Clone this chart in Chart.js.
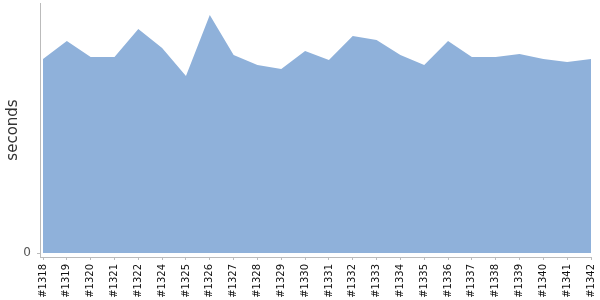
<!DOCTYPE html>
<html>
<head>
<meta charset="utf-8">
<script src="https://cdn.jsdelivr.net/npm/chart.js@4"></script>
<style>
  html, body { margin: 0; padding: 0; background: #fff; }
  #wrap { width: 600px; height: 300px; }
</style>
</head>
<body>
<div id="wrap"><canvas id="chart"></canvas></div>
<script>
// build numbers along the x axis
const builds = [
  '#1318', '#1319', '#1320', '#1321', '#1322', '#1324', '#1325', '#1326',
  '#1327', '#1328', '#1329', '#1330', '#1331', '#1332', '#1333', '#1334',
  '#1335', '#1336', '#1337', '#1338', '#1339', '#1340', '#1341', '#1342'
];

// duration per build, seconds
const durations = [
  194, 212, 196, 196, 224, 205, 177, 238,
  198, 188, 184, 202, 193, 217, 213, 198,
  188, 212, 196, 196, 199, 194, 191, 194
];

const yTicks = [ 0 ];

const fillColor = '#8fb1da';
const axisColor = '#bbbbbb';

const points = durations.map( ( v, i ) => ( { x: i, y: v } ) );

// keep the chart area where the original puts it
const noPadding = ( scale ) => {
  scale.paddingTop = 0;
  scale.paddingBottom = 0;
  scale.paddingLeft = 0;
  scale.paddingRight = 0;
};

new Chart( document.getElementById( 'chart' ), {
  type: 'line',
  data: {
    datasets: [ {
      label: 'seconds',
      data: points,
      borderWidth: 0,
      borderColor: fillColor,
      backgroundColor: fillColor,
      pointRadius: 0,
      fill: 'origin',
      tension: 0,
    } ],
  },
  options: {
    responsive: true,
    maintainAspectRatio: false,
    animation: false,
    layout: { padding: { top: 3, right: 9, left: 0, bottom: 0 } },
    plugins: {
      legend: { display: false },
      tooltip: { enabled: false },
    },
    scales: {
      x: {
        type: 'linear',
        min: -0.126,
        max: builds.length - 1,
        afterBuildTicks: ( scale ) => {
          scale.ticks = builds.map( ( _, i ) => ( { value: i } ) );
        },
        afterFit: ( scale ) => {
          scale.height = 43;
          noPadding( scale );
        },
        grid: { drawOnChartArea: false, tickLength: 3, color: axisColor },
        border: { color: axisColor },
        ticks: {
          autoSkip: false,
          minRotation: 90,
          maxRotation: 90,
          padding: 4,
          color: '#111',
          font: { family: 'DejaVu Sans', size: 10 },
          callback: ( value ) => builds[ value ],
        },
      },
      y: {
        min: -4,
        max: 250,
        afterBuildTicks: ( scale ) => {
          scale.ticks = yTicks.map( ( v ) => ( { value: v } ) );
        },
        afterFit: ( scale ) => {
          scale.width = 40;
          noPadding( scale );
        },
        grid: { drawOnChartArea: false, tickLength: 3, color: axisColor },
        border: { color: axisColor },
        ticks: {
          padding: 6,
          color: '#555',
          font: { family: 'DejaVu Sans', size: 12 },
        },
        title: {
          display: true,
          text: 'seconds',
          color: '#333',
          padding: { top: 4, bottom: 0 },
          font: { family: 'DejaVu Sans', size: 15 },
        },
      },
    },
  },
} );
</script>
</body>
</html>
